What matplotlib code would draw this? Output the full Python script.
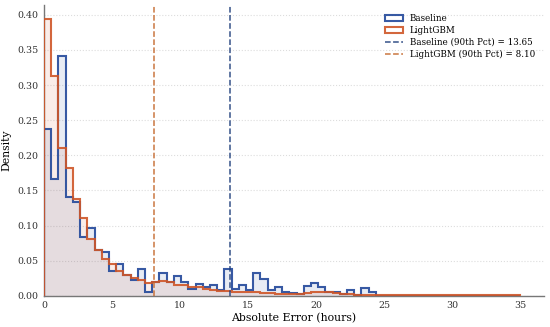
import numpy as np
import matplotlib.pyplot as plt

#%% data (density per bin, 66 equal bins from 0 to 35 h)
bin_edges = np.linspace(0, 35, 67)

baseline_density = [
    0.238, 0.166, 0.341, 0.141, 0.133, 0.084, 0.096, 0.066, 0.062, 0.036,
    0.046, 0.030, 0.022, 0.038, 0.005, 0.020, 0.033, 0.020, 0.028, 0.020,
    0.010, 0.017, 0.013, 0.015, 0.008, 0.038, 0.010, 0.016, 0.008, 0.032,
    0.024, 0.008, 0.012, 0.006, 0.004, 0.003, 0.014, 0.019, 0.013, 0.006,
    0.005, 0.003, 0.009, 0.002, 0.011, 0.006, 0.0, 0.0, 0.0, 0.0,
    0.0, 0.0, 0.0, 0.0, 0.0, 0.0, 0.0, 0.0, 0.0, 0.0,
    0.0, 0.0, 0.0, 0.0, 0.0, 0.0,
]

lightgbm_density = [
    0.394, 0.313, 0.211, 0.182, 0.138, 0.111, 0.081, 0.066, 0.053, 0.045,
    0.036, 0.030, 0.025, 0.023, 0.019, 0.020, 0.021, 0.020, 0.016, 0.016,
    0.013, 0.012, 0.010, 0.009, 0.007, 0.007, 0.006, 0.006, 0.005, 0.005,
    0.004, 0.004, 0.003, 0.003, 0.003, 0.003, 0.004, 0.005, 0.005, 0.005,
    0.004, 0.003, 0.003, 0.002, 0.002, 0.002, 0.001, 0.001, 0.002, 0.002,
    0.001, 0.001, 0.001, 0.001, 0.001, 0.002, 0.001, 0.0008, 0.0008, 0.0008,
    0.0008, 0.0008, 0.0008, 0.0008, 0.0008, 0.0008,
]

baseline_p90 = 13.65
lightgbm_p90 = 8.10

baseline_color = "#22489a"
lightgbm_color = "#cf5628"

#%% plot
plt.rcParams['font.family'] = 'DejaVu Serif'

fig, ax = plt.subplots(figsize=(5.5, 3.27), dpi=100)
fig.subplots_adjust(left=0.08, right=0.989, bottom=0.095, top=0.985)

centers = (bin_edges[:-1] + bin_edges[1:]) / 2

# light fills first, then the outlines
ax.hist(centers, bins=bin_edges, weights=baseline_density, histtype='stepfilled',
        color=baseline_color, alpha=0.1, zorder=1)
ax.hist(centers, bins=bin_edges, weights=lightgbm_density, histtype='stepfilled',
        color=lightgbm_color, alpha=0.1, zorder=1)
ax.hist(centers, bins=bin_edges, weights=baseline_density, histtype='step',
        color=baseline_color, lw=1.5, alpha=0.9, label='Baseline', zorder=3)
ax.hist(centers, bins=bin_edges, weights=lightgbm_density, histtype='step',
        color=lightgbm_color, lw=1.5, alpha=0.9, label='LightGBM', zorder=3)

ax.axvline(baseline_p90, color='#203f7c', ls='--', lw=1.1, alpha=0.9,
           label=f'Baseline (90th Pct) = {baseline_p90:.2f}', zorder=4)
ax.axvline(lightgbm_p90, color='#c4682c', ls='--', lw=1.1, alpha=0.9,
           label=f'LightGBM (90th Pct) = {lightgbm_p90:.2f}', zorder=4)

ax.set_xlim(0, 36.75)
ax.set_ylim(0, 0.414)
ax.set_xticks(np.arange(0, 36, 5))
ax.set_yticks(np.arange(0, 0.41, 0.05))
ax.yaxis.set_major_formatter(plt.FormatStrFormatter('%.2f'))
ax.tick_params(length=0, labelsize=6.8, colors='#333333', pad=4)

ax.grid(axis='y', ls=':', lw=0.8, color='#dddddd', zorder=0)
ax.set_axisbelow(True)
for side in ['top', 'right']:
    ax.spines[side].set_visible(False)
for side in ['left', 'bottom']:
    ax.spines[side].set_color('#777777')
    ax.spines[side].set_linewidth(1.0)

ax.set_xlabel('Absolute Error (hours)', fontsize=7.8, labelpad=2)
ax.set_ylabel('Density', fontsize=7.8, labelpad=4)

ax.legend(loc='upper right', frameon=False, fontsize=6.3, handlelength=2.0,
          borderaxespad=0.6, labelspacing=0.35)

fig.savefig('out.png', dpi=100)
